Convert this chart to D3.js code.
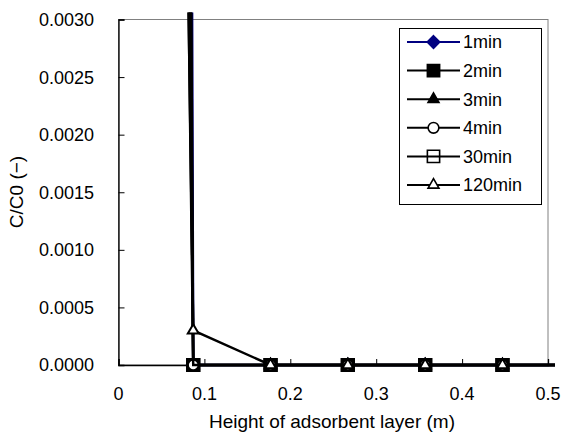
<!DOCTYPE html>
<html>
<head>
<meta charset="utf-8">
<script src="https://cdn.jsdelivr.net/npm/d3@7"></script>
<style>
  body { margin: 0; background: #fff; }
  text { font-family: "Liberation Sans", Arial, sans-serif; fill: #000; }
</style>
</head>
<body>
<script>
// heights (m) of the sampling points, first one is the inlet
var heights = [0, 0.087, 0.177, 0.267, 0.357, 0.447, 0.537];
var seriesNames = ["1min", "2min", "3min", "4min", "30min", "120min"];
var c1 = [0.2, 0, 0, 0, 0, 0, 0];
var c2 = [0.12, 0, 0, 0, 0, 0, 0];
var c3 = [0.09, 0, 0, 0, 0, 0, 0];
var c4 = [0.07, 0, 0, 0, 0, 0, 0];
var c30 = [0.05, 0, 0, 0, 0, 0, 0];
var c120 = [0.045, 0.0003, 0, 0, 0, 0, 0];
var xTicks = [0, 0.1, 0.2, 0.3, 0.4, 0.5];
var yTicks = [0, 0.0005, 0.001, 0.0015, 0.002, 0.0025, 0.003];

var width = 563, height = 432;
var plotLeft = 118.5, plotRight = 548, plotTop = 19.5, plotBottom = 365;

var x = d3.scaleLinear().domain([0, 0.5]).range([plotLeft, plotRight]);
var y = d3.scaleLinear().domain([0, 0.003]).range([plotBottom, plotTop]);

var styles = [
    {color: "#000080", shape: "diamond", fill: "#000080"},
    {color: "#000", shape: "square", fill: "#000"},
    {color: "#000", shape: "triangle", fill: "#000"},
    {color: "#000", shape: "circle", fill: "#fff"},
    {color: "#000", shape: "square", fill: "none"},
    {color: "#000", shape: "triangle", fill: "#fff"}
];
var allValues = [c1, c2, c3, c4, c30, c120];

var series = seriesNames.map(function(name, i) {
    return {
        name: name,
        style: styles[i],
        points: heights.map(function(h, j) { return {x: h, y: allValues[i][j]}; })
    };
});

function markerPath(shape) {
    if (shape == "diamond") return d3.symbol().type(d3.symbolDiamond2).size(100)();
    if (shape == "square") return d3.symbol().type(d3.symbolSquare).size(150)();
    if (shape == "triangle") return d3.symbol().type(d3.symbolTriangle2).size(85)();
    return d3.symbol().type(d3.symbolCircle).size(90)();
}

var svg = d3.select("body").append("svg")
    .attr("width", width)
    .attr("height", height);

svg.append("defs").append("clipPath")
    .attr("id", "plotclip")
    .append("rect")
        .attr("x", plotLeft - 7)
        .attr("y", plotTop - 7)
        .attr("width", plotRight - plotLeft + 14)
        .attr("height", plotBottom - plotTop + 14);

// plot frame
svg.append("rect")
    .attr("x", plotLeft)
    .attr("y", plotTop)
    .attr("width", plotRight - plotLeft)
    .attr("height", plotBottom - plotTop)
    .attr("fill", "none")
    .attr("stroke", "#808080")
    .attr("stroke-width", 1);

// y axis, ticks pointing inside
var yAxis = svg.append("g")
    .attr("transform", "translate(" + plotLeft + ",0)")
    .call(d3.axisRight(y).tickValues(yTicks).tickSize(6).tickFormat(""));
yAxis.select(".domain").attr("stroke", "#000").attr("stroke-width", 1.3);
yAxis.selectAll(".tick line").attr("stroke", "#000");

svg.append("g").selectAll("text")
    .data(yTicks)
    .enter()
    .append("text")
        .attr("x", 94)
        .attr("y", function(d) { return y(d); })
        .attr("dy", "0.36em")
        .attr("text-anchor", "end")
        .style("font-size", "18px")
        .text(function(d) { return d3.format(".4f")(d); });

// x axis, ticks pointing inside
var xAxis = svg.append("g")
    .attr("transform", "translate(0," + plotBottom + ")")
    .call(d3.axisTop(x).tickValues(xTicks).tickSize(6).tickFormat(""));
xAxis.select(".domain").attr("stroke", "#000").attr("stroke-width", 1.3);
xAxis.selectAll(".tick line").attr("stroke", "#000");

svg.append("g").selectAll("text")
    .data(xTicks)
    .enter()
    .append("text")
        .attr("x", function(d) { return x(d); })
        .attr("y", 400)
        .attr("text-anchor", "middle")
        .style("font-size", "18px")
        .text(function(d) { return d == 0 ? "0" : d3.format(".1f")(d); });

svg.append("text")
    .attr("x", 332)
    .attr("y", 428)
    .attr("text-anchor", "middle")
    .style("font-size", "19px")
    .text("Height of adsorbent layer (m)");

svg.append("text")
    .attr("transform", "translate(23,192) rotate(-90)")
    .attr("text-anchor", "middle")
    .style("font-size", "19px")
    .text("C/C0 (−)");

// data
var plot = svg.append("g").attr("clip-path", "url(#plotclip)");
var line = d3.line()
    .x(function(d) { return x(d.x); })
    .y(function(d) { return y(d.y); });

series.forEach(function(s) {
    var g = plot.append("g");
    g.append("path")
        .datum(s.points)
        .attr("fill", "none")
        .attr("stroke", s.style.color)
        .attr("stroke-width", 2.5)
        .attr("d", line);
    g.selectAll("path.mark")
        .data(s.points)
        .enter()
        .append("path")
            .attr("class", "mark")
            .attr("transform", function(d) { return "translate(" + x(d.x) + "," + y(d.y) + ")"; })
            .attr("d", markerPath(s.style.shape))
            .attr("fill", s.style.fill)
            .attr("stroke", s.style.color)
            .attr("stroke-width", 2);
});

// legend
var legend = svg.append("g");
legend.append("rect")
    .attr("x", 399.5)
    .attr("y", 28.5)
    .attr("width", 142)
    .attr("height", 176)
    .attr("fill", "#fff")
    .attr("stroke", "#000")
    .attr("stroke-width", 1);

var items = legend.selectAll("g.item")
    .data(series)
    .enter()
    .append("g")
        .attr("class", "item")
        .attr("transform", function(d, i) { return "translate(0," + (42 + i * 28.6) + ")"; });
items.append("line")
    .attr("x1", 407).attr("x2", 460)
    .attr("stroke", function(d) { return d.style.color; })
    .attr("stroke-width", 2);
items.append("path")
    .attr("transform", "translate(433.5,0)")
    .attr("d", function(d) { return markerPath(d.style.shape); })
    .attr("fill", function(d) { return d.style.fill; })
    .attr("stroke", function(d) { return d.style.color; })
    .attr("stroke-width", 1.6);
items.append("text")
    .attr("x", 463)
    .attr("dy", "0.36em")
    .style("font-size", "18px")
    .text(function(d) { return d.name; });
</script>
</body>
</html>
